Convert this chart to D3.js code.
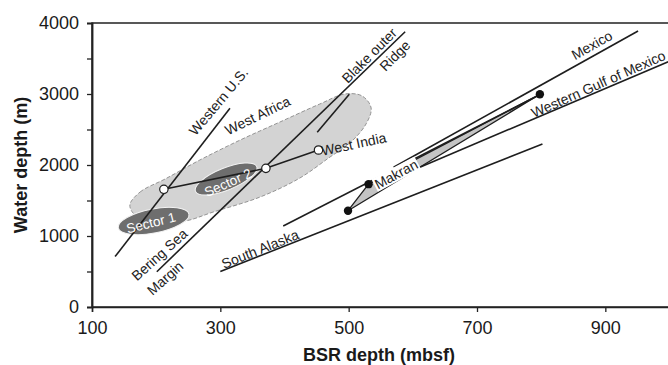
<!DOCTYPE html>
<html><head><meta charset="utf-8">
<script src="https://cdn.jsdelivr.net/npm/d3@7"></script>
<style>
body{margin:0;background:#fff}
text{font-family:"Liberation Sans",Arial,sans-serif}
</style>
</head><body>
<svg id="c" width="668" height="365"></svg>
<script>
// ---- data ----
const xTicks = [100, 300, 500, 700, 900];
const yTicks = [0, 1000, 2000, 3000, 4000];
const yMinorTicks = [500, 1500, 2500, 3500];

const westernUS   = [[136, 710], [315, 2800]];
const beringBlake = [[201, 497], [588, 3877]];
const blakeShort  = [[451, 2461], [501, 2996]];
const makranTrend = [[398, 1140], [800, 3000]];
const mexico      = [[570, 1968], [951, 3887]];
const westernGulf = [[611, 1968], [998, 3455]];
const southAlaska = [[300, 500], [802, 2296]];
const westIndia   = [[212, 1658], [371, 1953], [453, 2211]];
const makranPts   = [[499, 1356], [531, 1730], [798, 2996]];

const westAfrica = [[159,1437],[175,1620],[214,1803],[268,2070],[331,2352],[393,2606],
  [455,2859],[494,3000],[521,2972],[535,2803],[527,2577],[502,2310],[471,2113],
  [424,1817],[362,1549],[289,1338],[245,1211],[198,1197],[167,1296]];

const sectors = [
  {name: "Sector 1", cx: 196, cy: 1211, tx: 192, ty: 1183},
  {name: "Sector 2", cx: 309, cy: 1803, tx: 312, ty: 1749}
];

const labels = [
  {text: "Western U.S.", x: 297, y: 2895, a: -50},
  {text: "West Africa", x: 358, y: 2697, a: -26},
  {text: "Blake outer", x: 532, y: 3544, a: -45},
  {text: "Ridge", x: 572, y: 3542, a: -45},
  {text: "West India", x: 508, y: 2296, a: -12},
  {text: "Bering Sea", x: 205, y: 738, a: -42},
  {text: "Margin", x: 214, y: 408, a: -42},
  {text: "South Alaska", x: 362, y: 817, a: -22},
  {text: "Mexico", x: 879, y: 3690, a: -29},
  {text: "Western Gulf of Mexico", x: 889, y: 3141, a: -24}
];
const makranLabel = {text: "Makran", x: 574, y: 1873, a: -28};

// ---- chart ----
const svg = d3.select("#c");
const L = 92, R = 669.5, T = 23, B = 307;
const x = d3.scaleLinear().domain([100, 1000]).range([L, R]);
const y = d3.scaleLinear().domain([0, 4000]).range([B, T]);
const ink = "#1e1e1e";

svg.append("defs").append("clipPath").attr("id", "clip")
  .append("rect").attr("x", L).attr("y", T).attr("width", R - L).attr("height", B - T);
const plot = svg.append("g").attr("clip-path", "url(#clip)");

const line = d3.line().x(d => x(d[0])).y(d => y(d[1]));

// West Africa region
plot.append("path")
  .attr("d", d3.line().x(d => x(d[0])).y(d => y(d[1])).curve(d3.curveCatmullRomClosed)(westAfrica))
  .attr("fill", "#d3d3d3").attr("stroke", "#8a8a8a").attr("stroke-width", 0.9)
  .attr("stroke-dasharray", "4,2");

// sector ellipses
const secSize = [{rx: 36, ry: 12, rot: -11}, {rx: 33, ry: 11, rot: -22}];
sectors.forEach((s, i) => {
  plot.append("ellipse")
    .attr("cx", 0).attr("cy", 0).attr("rx", secSize[i].rx).attr("ry", secSize[i].ry)
    .attr("transform", `translate(${x(s.cx)},${y(s.cy)}) rotate(${secSize[i].rot})`)
    .attr("fill", "#6e6e6e").attr("stroke", "#f2f2f2").attr("stroke-width", 1);
});

// Makran triangle
plot.append("path").attr("d", line(makranPts) + "Z")
  .attr("fill", "#c4c4c4").attr("stroke", ink).attr("stroke-width", 1.3)
  .attr("stroke-linejoin", "round");

// lines
[westernUS, beringBlake, blakeShort, makranTrend, mexico, westernGulf, southAlaska, westIndia]
  .forEach(d => plot.append("path").attr("d", line(d))
    .attr("fill", "none").attr("stroke", ink).attr("stroke-width", 1.6));

// sector labels
sectors.forEach((s, i) => {
  plot.append("text").text(s.name)
    .attr("transform", `translate(${x(s.tx)},${y(s.ty)}) rotate(${i === 0 ? -14 : -24})`)
    .attr("text-anchor", "middle").attr("dominant-baseline", "central")
    .attr("font-size", 13.5).attr("fill", "#fff");
});

// Makran label with white background
const mg = plot.append("g")
  .attr("transform", `translate(${x(makranLabel.x)},${y(makranLabel.y)}) rotate(${makranLabel.a})`);
const mr = mg.append("rect").attr("fill", "#fff");
const mt = mg.append("text").text(makranLabel.text)
  .attr("text-anchor", "middle").attr("dominant-baseline", "central")
  .attr("font-size", 14).attr("fill", "#222");
const bb = mt.node().getBBox();
mr.attr("x", bb.x - 1).attr("y", bb.y + 1).attr("width", bb.width + 2).attr("height", bb.height - 2);

// markers
plot.selectAll(".wi").data(westIndia).join("circle")
  .attr("cx", d => x(d[0])).attr("cy", d => y(d[1])).attr("r", 4.2)
  .attr("fill", "#fff").attr("stroke", ink).attr("stroke-width", 1.2);
plot.selectAll(".mk").data(makranPts).join("circle")
  .attr("cx", d => x(d[0])).attr("cy", d => y(d[1])).attr("r", 4.2)
  .attr("fill", "#111");

// text labels (outside the clip)
svg.append("g").selectAll("text").data(labels).join("text")
  .text(d => d.text)
  .attr("transform", d => `translate(${x(d.x)},${y(d.y)}) rotate(${d.a})`)
  .attr("text-anchor", "middle").attr("dominant-baseline", "central")
  .attr("font-size", 14).attr("fill", "#222");

// frame
svg.append("rect").attr("x", L).attr("y", T).attr("width", R - L).attr("height", B - T)
  .attr("fill", "none").attr("stroke", "#222").attr("stroke-width", 1.5);

// axes
const ax = svg.append("g").attr("transform", `translate(0,${B})`)
  .call(d3.axisBottom(x).tickValues(xTicks).tickSize(5).tickPadding(9).tickFormat(d3.format("d")));
const ay = svg.append("g").attr("transform", `translate(${L},0)`)
  .call(d3.axisLeft(y).tickValues(yTicks).tickSize(5).tickPadding(8).tickFormat(d3.format("d")));
const aym = svg.append("g").attr("transform", `translate(${L},0)`)
  .call(d3.axisLeft(y).tickValues(yMinorTicks).tickSize(5).tickFormat(""));
[ax, ay, aym].forEach(g => {
  g.select(".domain").attr("stroke", "#222").attr("stroke-width", 1.5);
  g.selectAll(".tick line").attr("stroke", "#222").attr("stroke-width", 1.3);
  g.selectAll(".tick text").attr("font-size", 18).attr("fill", "#1a1a1a")
    .attr("font-family", '"Liberation Sans",Arial,sans-serif');
});

// axis titles
svg.append("text").text("BSR depth (mbsf)")
  .attr("x", 379).attr("y", 361).attr("text-anchor", "middle")
  .attr("font-size", 18).attr("font-weight", "bold").attr("fill", "#1a1a1a");
svg.append("text").text("Water depth (m)")
  .attr("transform", `translate(27,${(T + B) / 2}) rotate(-90)`)
  .attr("text-anchor", "middle")
  .attr("font-size", 18).attr("font-weight", "bold").attr("fill", "#1a1a1a");
</script>
</body></html>
